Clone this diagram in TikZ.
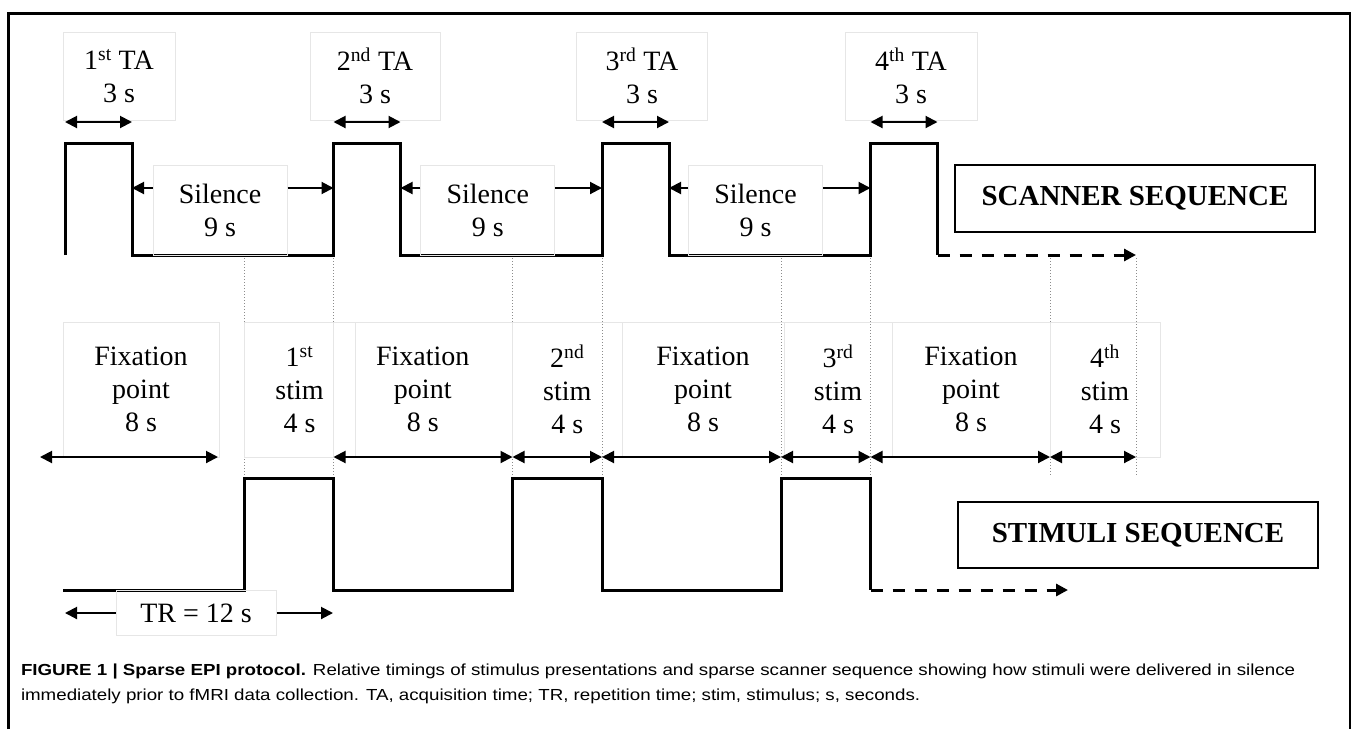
\documentclass[tikz,border=0pt]{standalone}
\usepackage{fontspec}
\setmainfont{Liberation Serif}
\setsansfont{Liberation Sans}
\newfontfamily\capfont[FakeStretch=1.17]{Liberation Sans}
\usetikzlibrary{arrows.meta}
\definecolor{cfaint}{HTML}{E6E6E6}
\definecolor{cguide}{HTML}{8C8C8C}
\tikzset{
  every picture/.style={line width=2pt},
  wave/.style={line width=3pt},
  tail/.style={line width=3pt, dash pattern=on 12pt off 10pt, -{Triangle[length=12pt, width=12pt]}},
  arrow/.style={-{Triangle[length=12pt, width=12pt]}, line width=2pt},
  dim/.style={{Triangle[length=12pt, width=12pt]}-{Triangle[length=12pt, width=12pt]}, line width=2pt},
  lbl/.style={draw=cfaint, line width=1pt, align=center, inner sep=0pt, font=\fontsize{28}{33}\selectfont},
  seqbox/.style={draw, line width=1.5pt, minimum width=360pt, minimum height=67pt, font=\fontsize{29}{34}\selectfont\bfseries},
  guide/.style={draw=cguide, line width=1pt, dotted},
  caption/.style={anchor=base west, inner sep=0pt, font=\capfont\fontsize{16}{20}\selectfont},
}

\begin{document}
\begin{tikzpicture}[x=1pt, y=-1pt]
  \useasboundingbox (0,0) rectangle (1355,729);
  \draw[line width=2.5pt] (8.5,729) -- (8.5,13.5) -- (1350,13.5) -- (1350,729);
  % scanner sequence
  \foreach \k in {0,...,3} {
    \coordinate (up\k) at ({65+268.5*\k},143);
    \coordinate (dn\k) at ({132+268.5*\k},255);
    \coordinate (re\k) at ({65+268.5*\k},188);
    \coordinate (fe\k) at ({132+268.5*\k},188);
    \coordinate (tal\k) at ({65+268.5*\k},122);
    \coordinate (tar\k) at ({132+268.5*\k},122);
  }
  \coordinate (scanend) at (1136,255);
  \draw[wave] (65,255) -- (up0) -| (dn0) -| (up1) -| (dn1) -| (up2) -| (dn2) -| (up3) -| (dn3);
  \draw[tail] (dn3) -- (scanend);
  \foreach \k/\c/\n/\cx/\w in {0/1/st/119/112, 1/2/nd/375/130, 2/3/rd/642/131, 3/4/th/911/132} {
    \node[lbl, minimum width=\w pt, minimum height=88pt] (ta\k) at (\cx,76) {\c\textsuperscript{\n} TA\\3 s};
    \draw[dim] (tal\k) -- (tar\k);
  }
  \foreach \k/\j in {1/0, 2/1, 3/2} {
    \node[lbl, minimum width=134pt, minimum height=90pt] (sil\k) at ({220+267.75*\j},210) {Silence\\9 s};
    \draw[arrow] (sil\k.west |- fe\j) -- (fe\j);
    \draw[arrow] (sil\k.east |- re\k) -- (re\k);
  }
  \node[seqbox] (scan) at (1135,198.5) {SCANNER SEQUENCE};
  % stimuli sequence
  \foreach \k in {0,1,2} {
    \coordinate (on\k) at ({244+268.5*\k},478);
    \coordinate (off\k) at ({333.5+268.5*\k},590);
  }
  \coordinate (stimend) at (1068,590);
  \draw[wave] (63,590) -| (on0) -| (off0) -| (on1) -| (off1) -| (on2) -| (off2);
  \draw[tail] (off2) -- (stimend);
  \node[seqbox, minimum height=66pt] (stim) at (1138,535) {STIMULI SEQUENCE};
  % guides between the two sequences
  \foreach \x in {244,333.5,512.5,602,781,870.5,1050,1136}
    \draw[guide] (\x,258) -- (\x,476);
  % fixation / stim labels
  \foreach \name/\xa/\xb/\txt in {fix1/63/219/{Fixation\\point\\8 s}, stim1/244/355/{1\textsuperscript{st}\\stim\\4 s},
    fix2/333/512.5/{Fixation\\point\\8 s}, stim2/512.5/622/{2\textsuperscript{nd}\\stim\\4 s},
    fix3/622/784/{Fixation\\point\\8 s}, stim3/784/892/{3\textsuperscript{rd}\\stim\\4 s},
    fix4/892/1050/{Fixation\\point\\8 s}, stim4/1050/1160/{4\textsuperscript{th}\\stim\\4 s}}
    \node[lbl, minimum height=135pt, minimum width=(\xb-\xa)*1pt] (\name) at ({(\xa+\xb)/2},389.5) {\txt};
  \coordinate (fa) at (40,457);
  \coordinate (fb) at (218,457);
  \draw[dim] (fa) -- (fb);
  \foreach \i/\x in {0/333.5, 1/512.5, 2/602, 3/781, 4/870.5, 5/1050, 6/1136}
    \coordinate (m\i) at (\x,457);
  \foreach \a/\b in {0/1, 1/2, 2/3, 3/4, 4/5, 5/6}
    \draw[dim] (m\a) -- (m\b);
  % repetition time
  \node[lbl, minimum width=160pt, minimum height=45pt] (tr) at (196,613) {TR = 12 s};
  \coordinate (trl) at (65,613);
  \coordinate (trr) at (333,613);
  \draw[arrow] (tr.west) -- (trl);
  \draw[arrow] (tr.east) -- (trr);
  % caption
  \node[caption] (cap1) at (20,675) {\textbf{FIGURE 1 | Sparse EPI protocol.} Relative timings of stimulus presentations and sparse scanner sequence showing how stimuli were delivered in silence};
  \node[caption] (cap2) at (20,700) {immediately prior to fMRI data collection. TA, acquisition time; TR, repetition time; stim, stimulus; s, seconds.};
\end{tikzpicture}
\end{document}
